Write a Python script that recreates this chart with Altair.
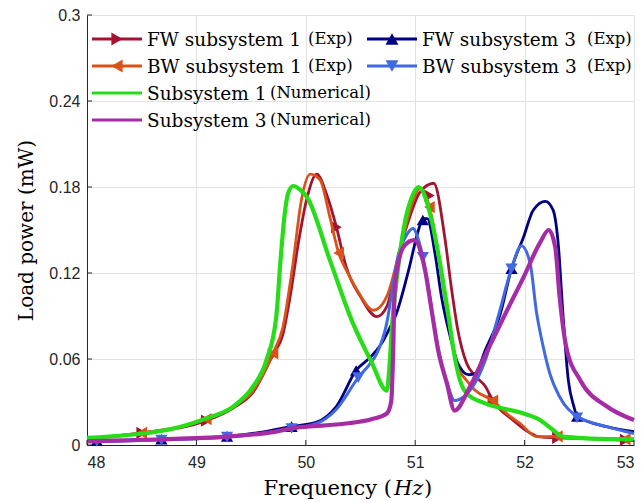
import altair as alt
import pandas as pd

# ------------------------------------------------------------------ data
fw1_x = [48.0, 48.5, 49.09, 49.34, 49.52, 49.70, 49.79, 49.86, 49.93, 50.01, 50.10, 50.19, 50.28, 50.37,
         50.50, 50.65, 50.74, 50.86, 50.95, 51.04, 51.17, 51.27, 51.33, 51.39, 51.47, 51.55, 51.64, 51.71,
         51.90, 52.05, 52.14, 52.30, 52.60, 53.0]
fw1_y = [0.0045, 0.0084, 0.017, 0.026, 0.037, 0.063, 0.077, 0.105, 0.140, 0.172, 0.189, 0.175, 0.152, 0.124,
         0.1035, 0.0895, 0.0965, 0.136, 0.159, 0.176, 0.1826, 0.145, 0.110, 0.080, 0.057, 0.048, 0.041, 0.031,
         0.017, 0.0084, 0.0056, 0.005, 0.0045, 0.003]

bw1_x = [48.0, 48.5, 49.09, 49.34, 49.52, 49.70, 49.79, 49.88, 49.96, 50.04, 50.13, 50.22, 50.30, 50.37,
         50.47, 50.62, 50.74, 50.86, 50.98, 51.04, 51.13, 51.21, 51.27, 51.33, 51.39, 51.47, 51.55, 51.71,
         51.85, 51.96, 52.11, 52.30, 52.60, 53.0]
bw1_y = [0.0045, 0.0084, 0.018, 0.027, 0.038, 0.064, 0.082, 0.125, 0.171, 0.189, 0.185, 0.159, 0.134, 0.122,
         0.108, 0.094, 0.1035, 0.136, 0.170, 0.179, 0.166, 0.134, 0.1035, 0.0756, 0.0546, 0.045, 0.038, 0.031,
         0.021, 0.015, 0.0058, 0.006, 0.0045, 0.004]

sub1_x = [48.0, 48.73, 49.09, 49.34, 49.52, 49.64, 49.73, 49.77, 49.81, 49.84, 49.886, 49.95, 50.01, 50.22,
          50.43, 50.60, 50.74, 50.76, 50.79, 50.82, 50.91, 50.97, 51.03, 51.12, 51.21, 51.30, 51.36, 51.41,
          51.47, 51.64, 51.99, 52.14, 52.26, 52.35, 52.6, 53.0]
sub1_y = [0.005, 0.0105, 0.0186, 0.027, 0.041, 0.059, 0.0895, 0.13, 0.163, 0.176, 0.1807, 0.178, 0.173, 0.129,
          0.085, 0.058, 0.038, 0.05, 0.085, 0.108, 0.157, 0.173, 0.180, 0.166, 0.134, 0.092, 0.062, 0.045,
          0.036, 0.029, 0.022, 0.0174, 0.0105, 0.0058, 0.0045, 0.004]

sub3_x = [48.0, 48.7, 49.31, 49.7, 49.9, 50.01, 50.37, 50.6, 50.74, 50.78, 50.80, 50.81, 50.84, 50.90, 50.99,
          51.09, 51.15, 51.21, 51.29, 51.36, 51.49, 51.61, 51.84, 51.99, 52.14, 52.22, 52.28, 52.32, 52.38,
          52.51, 52.75, 53.0]
sub3_y = [0.0025, 0.004, 0.006, 0.009, 0.012, 0.0128, 0.015, 0.018, 0.022, 0.03, 0.07, 0.105, 0.125, 0.139,
          0.143, 0.122, 0.094, 0.066, 0.043, 0.024, 0.039, 0.058, 0.094, 0.117, 0.141, 0.150, 0.138, 0.1035,
          0.0686, 0.045, 0.027, 0.0174]

fw3_x = [48.0, 48.09, 48.68, 49.28, 49.6, 49.86, 50.10, 50.28, 50.46, 50.6, 50.71, 50.77, 50.82, 50.94, 51.03,
         51.07, 51.11, 51.18, 51.24, 51.32, 51.39, 51.49, 51.55, 51.64, 51.78, 51.88, 51.99, 52.08, 52.19,
         52.26, 52.31, 52.35, 52.40, 52.45, 52.48, 52.75, 53.0]
fw3_y = [0.003, 0.003, 0.004, 0.006, 0.009, 0.0128, 0.016, 0.027, 0.052, 0.062, 0.073, 0.082, 0.090, 0.122, 0.150,
         0.158, 0.158, 0.134, 0.1035, 0.0756, 0.057, 0.049, 0.050, 0.066, 0.092, 0.123, 0.145, 0.164, 0.170,
         0.164, 0.138, 0.092, 0.045, 0.027, 0.020, 0.0128, 0.0093]

bw3_x = [48.0, 48.09, 48.68, 49.28, 49.6, 49.87, 50.10, 50.28, 50.48, 50.59, 50.65, 50.74, 50.80, 50.85, 50.91,
         50.98, 51.03, 51.07, 51.12, 51.18, 51.24, 51.30, 51.36, 51.45, 51.58, 51.64, 51.76, 51.88, 51.97,
         52.05, 52.11, 52.17, 52.23, 52.32, 52.48, 52.75, 53.0]
bw3_y = [0.0025, 0.0025, 0.0035, 0.0055, 0.008, 0.0115, 0.015, 0.025, 0.047, 0.057, 0.064, 0.085, 0.113, 0.134,
         0.145, 0.151, 0.143, 0.131, 0.110, 0.080, 0.057, 0.041, 0.031, 0.034, 0.048, 0.059, 0.090, 0.123, 0.139,
         0.127, 0.092, 0.0686, 0.050, 0.0337, 0.020, 0.0128, 0.008]

# marker positions (experimental points)
fw1_mx = [48.5, 49.09, 49.70, 50.28, 51.13, 51.71, 52.30, 52.92]
fw1_my = [0.0084, 0.017, 0.063, 0.152, 0.174, 0.031, 0.005, 0.0035]
bw1_mx = [48.5, 49.09, 49.70, 50.30, 51.13, 51.71, 52.30, 52.92]
bw1_my = [0.0084, 0.018, 0.064, 0.134, 0.166, 0.031, 0.006, 0.004]
fw3_mx = [48.09, 48.68, 49.28, 49.87, 50.46, 51.07, 51.88, 52.48]
fw3_my = [0.003, 0.004, 0.006, 0.0128, 0.052, 0.157, 0.123, 0.020]
bw3_mx = [48.09, 48.68, 49.28, 49.87, 50.48, 51.07, 51.88, 52.48]
bw3_my = [0.0025, 0.0035, 0.0055, 0.0115, 0.047, 0.131, 0.123, 0.019]

x_ticks = [48, 49, 50, 51, 52, 53]
y_ticks = [0, 0.06, 0.12, 0.18, 0.24, 0.3]

names = ["FW subsystem 1", "BW subsystem 1", "Subsystem 1", "Subsystem 3", "FW subsystem 3", "BW subsystem 3"]
suffixes = ["(Exp)", "(Exp)", "(Numerical)", "(Numerical)", "(Exp)", "(Exp)"]

# ------------------------------------------------------------------ style
W, H = 547, 430
XD, YD = [48, 53], [0, 0.3]
COLORS = {
    "FW subsystem 1": "#A2142F",
    "BW subsystem 1": "#D95319",
    "Subsystem 1": "#27DD18",
    "Subsystem 3": "#A62CA6",
    "FW subsystem 3": "#000080",
    "BW subsystem 3": "#4169E1",
}
WIDTHS = {
    "FW subsystem 1": 2.8, "BW subsystem 1": 2.8, "Subsystem 1": 4.2,
    "Subsystem 3": 4.2, "FW subsystem 3": 2.8, "BW subsystem 3": 3.0,
}
SHAPES = {
    "FW subsystem 1": "triangle-right", "BW subsystem 1": "triangle-left",
    "FW subsystem 3": "triangle-up", "BW subsystem 3": "triangle-down",
}
SERIF = "DejaVu Serif"
SANS = "Liberation Sans"

lines = {
    "FW subsystem 1": (fw1_x, fw1_y),
    "BW subsystem 1": (bw1_x, bw1_y),
    "FW subsystem 3": (fw3_x, fw3_y),
    "BW subsystem 3": (bw3_x, bw3_y),
    "Subsystem 1": (sub1_x, sub1_y),
    "Subsystem 3": (sub3_x, sub3_y),
}
markers = {
    "FW subsystem 1": (fw1_mx, fw1_my),
    "BW subsystem 1": (bw1_mx, bw1_my),
    "FW subsystem 3": (fw3_mx, fw3_my),
    "BW subsystem 3": (bw3_mx, bw3_my),
}


def px2x(p):
    return XD[0] + p / W * (XD[1] - XD[0])


def px2y(p):
    return YD[1] - p / H * (YD[1] - YD[0])


xscale = alt.Scale(domain=XD, nice=False, zero=False)
yscale = alt.Scale(domain=YD, nice=False, zero=False)
AXX = alt.Axis(values=x_ticks, format="d", title=None)
AXY = alt.Axis(values=y_ticks, format="~g", title="Load power (mW)")


def EX(field):
    return alt.X(field, type="quantitative", scale=xscale, axis=AXX)


def EY(field):
    return alt.Y(field, type="quantitative", scale=yscale, axis=AXY)


layers = []
for name, (xs, ys) in lines.items():
    df = pd.DataFrame({"x": xs, "y": ys, "i": range(len(xs))})
    layers.append(
        alt.Chart(df).mark_line(color=COLORS[name], strokeWidth=WIDTHS[name], interpolate="monotone",
                                clip=False)
        .encode(x=EX("x"), y=EY("y"), order="i:Q")
    )
    if name in markers:
        mx, my = markers[name]
        mdf = pd.DataFrame({"x": mx, "y": my})
        layers.append(
            alt.Chart(mdf).mark_point(shape=SHAPES[name], filled=True, opacity=1, size=150,
                                      color=COLORS[name])
            .encode(x=EX("x"), y=EY("y"))
        )

# inward ticks
xt = pd.DataFrame({"x": x_ticks, "y": [0] * len(x_ticks), "y2": [px2y(H - 5)] * len(x_ticks)})
layers.append(alt.Chart(xt).mark_rule(color="#262626", strokeWidth=1).encode(x=EX("x"), y=EY("y"), y2="y2:Q"))
yt = pd.DataFrame({"y": y_ticks, "x": [XD[0]] * len(y_ticks), "x2": [px2x(5)] * len(y_ticks)})
layers.append(alt.Chart(yt).mark_rule(color="#262626", strokeWidth=1).encode(x=EX("x"), x2="x2:Q", y=EY("y")))

# ------------------------------------------------------------------ legend (inside plot, 2 columns)
col_of = [0, 0, 0, 0, 1, 1]
row_of = [0, 1, 2, 3, 0, 1]
col_left = [5, 280]           # pixel offsets inside plot area
row_top = 24
row_gap = 27
suffix_off = {"(Exp)": [221, 500], "(Numerical)": [183, 183]}

leg_rows = []
for k, name in enumerate(names):
    c, r = col_of[k], row_of[k]
    x0 = col_left[c]
    yy = row_top + r * row_gap
    leg_rows.append({
        "name": name, "label": name, "suffix": suffixes[k],
        "x": px2x(x0), "x2": px2x(x0 + 50), "xm": px2x(x0 + 25), "xt": px2x(x0 + 55),
        "xs": px2x(suffix_off[suffixes[k]][c]), "y": px2y(yy),
    })
leg = pd.DataFrame(leg_rows)

for _, row in leg.iterrows():
    one = pd.DataFrame([row])
    name = row["name"]
    layers.append(alt.Chart(one).mark_rule(color=COLORS[name], strokeWidth=3)
                  .encode(x=EX("x"), x2="x2:Q", y=EY("y")))
    if name in SHAPES:
        layers.append(alt.Chart(one).mark_point(shape=SHAPES[name], filled=True, opacity=1, size=170,
                                                color=COLORS[name])
                      .encode(x=EX("xm"), y=EY("y")))

layers.append(alt.Chart(leg).mark_text(align="left", baseline="middle", font=SERIF, fontSize=18.5,
                                       color="#000000", dy=1)
              .encode(x=EX("xt"), y=EY("y"), text="label:N"))
layers.append(alt.Chart(leg).mark_text(align="left", baseline="middle", font=SERIF, fontSize=16.5,
                                       color="#000000", dy=0)
              .encode(x=EX("xs"), y=EY("y"), text="suffix:N"))

# ------------------------------------------------------------------ x axis title "Frequency (Hz)"
xtitle = pd.DataFrame({
    "t": ["Frequency (", "Hz", ")"],
    "x": [px2x(305), px2x(307), px2x(337)],
    "y": [px2y(H + 44)] * 3,
})
layers.append(alt.Chart(xtitle.iloc[[0]]).mark_text(align="right", baseline="middle", font=SERIF, fontSize=21)
              .encode(x=EX("x"), y=EY("y"), text="t:N"))
layers.append(alt.Chart(xtitle.iloc[[1]]).mark_text(align="left", baseline="middle", font=SERIF, fontSize=21,
                                                    fontStyle="italic")
              .encode(x=EX("x"), y=EY("y"), text="t:N"))
layers.append(alt.Chart(xtitle.iloc[[2]]).mark_text(align="left", baseline="middle", font=SERIF, fontSize=21)
              .encode(x=EX("x"), y=EY("y"), text="t:N"))

chart = (
    alt.layer(*layers)
    .properties(width=W, height=H, autosize=alt.AutoSizeParams(type="none"),
                padding={"left": 87, "top": 15, "right": 9, "bottom": 57})
    .configure_view(stroke=None)
    .configure_axis(
        grid=True, gridColor="#e2e2e2", gridWidth=1,
        domainColor="#262626", domainWidth=1,
        tickSize=0, labelFont=SANS, labelFontSize=16, labelColor="#262626",
        titleFont=SERIF, titleFontSize=20, titleFontWeight="normal", titleColor="#000000",
    )
    .configure_axisX(labelPadding=9)
    .configure_axisY(labelPadding=7, titlePadding=12)
)

chart.save("out.html", embed_options={"renderer": "svg", "actions": False})
